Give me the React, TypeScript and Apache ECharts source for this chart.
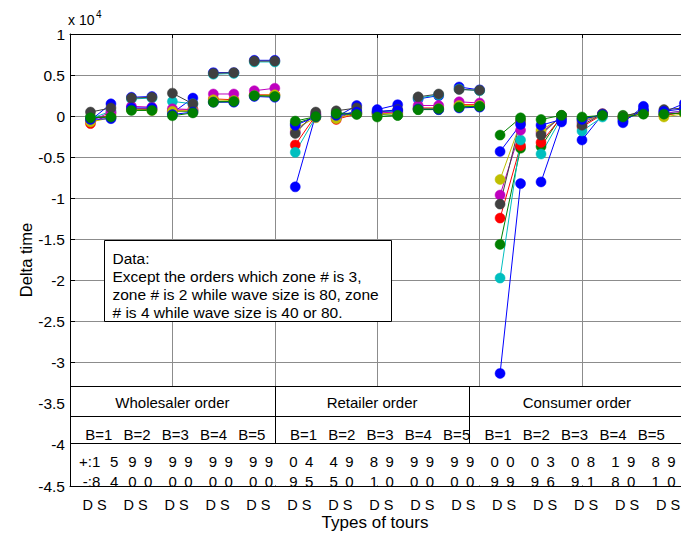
import React, { useEffect, useRef } from "react";
import * as echarts from "echarts";

const FONT = '"Liberation Sans", Arial, Helvetica, sans-serif';

// Values are in units of 10^4 (axis shows "x 10^4").
// Order of 30 points: Wholesaler B=1..5, Retailer B=1..5, Consumer B=1..5; each B has D then S.
const blue1 = [-0.05, 0.15, 0.23, 0.24, 0.04, 0.22, 0.53, 0.53, 0.68, 0.68, -0.86, 0.02, -0.01, 0.13, 0.08, 0.14, 0.21, 0.25, 0.355, 0.32, -3.13, -0.82, -0.8, -0.07, -0.29, 0.02, -0.08, 0.12, 0.05, 0.155];
const green1 = [-0.01, -0.01, 0.08, 0.08, 0.06, 0.06, 0.18, 0.18, 0.25, 0.25, -0.09, -0.01, 0.04, 0.03, 0.02, 0.01, 0.08, 0.08, 0.12, 0.12, -1.56, -0.39, -0.37, 0.005, -0.03, 0.01, 0.01, 0.03, 0.02, 0.04];
const red1 = [-0.09, 0.03, 0.09, 0.09, 0.07, 0.08, 0.21, 0.2, 0.26, 0.26, -0.35, 0.01, -0.04, 0.03, 0.03, 0.04, 0.1, 0.1, 0.14, 0.14, -1.24, -0.36, -0.32, -0.01, -0.13, 0.02, -0.03, 0.04, 0.01, 0.05];
const cyan1 = [-0.03, 0.06, 0.21, 0.22, 0.18, 0.15, 0.51, 0.52, 0.66, 0.66, -0.44, -0.01, -0.02, 0.07, 0.05, 0.06, 0.22, 0.26, 0.33, 0.31, -1.97, -0.29, -0.46, -0.02, -0.18, -0.01, -0.05, 0.06, 0.03, 0.07];
const magenta1 = [-0.06, 0.05, 0.12, 0.11, 0.09, 0.08, 0.27, 0.27, 0.31, 0.34, -0.19, 0.03, -0.02, 0.05, 0.04, 0.05, 0.13, 0.13, 0.175, 0.16, -0.96, -0.17, -0.2, -0.01, -0.08, 0.03, -0.02, 0.05, 0.04, 0.06];
const yellow1 = [-0.07, -0.02, 0.08, 0.07, 0.06, 0.07, 0.2, 0.19, 0.25, 0.26, -0.15, -0.02, -0.03, 0.04, 0.03, 0.03, 0.09, 0.09, 0.13, 0.13, -0.77, -0.08, -0.17, -0.02, -0.06, 0.02, -0.01, 0.04, -0.01, 0.03];
const gray1 = [0.05, 0.1, 0.22, 0.23, 0.28, 0.15, 0.52, 0.53, 0.67, 0.67, -0.21, 0.05, 0.065, 0.1, 0.05, 0.08, 0.235, 0.27, 0.325, 0.315, -1.07, -0.05, -0.23, 0.01, -0.11, 0.03, -0.005, 0.065, 0.08, 0.1];
const blue2 = [-0.04, -0.03, 0.1, 0.1, 0.02, 0.05, 0.17, 0.17, 0.24, 0.23, -0.11, -0.01, 0.01, 0.05, 0.06, 0.07, 0.09, 0.08, 0.1, 0.11, -0.43, -0.1, -0.11, -0.04, -0.04, 0.02, -0.06, 0.08, 0.06, 0.09];
const green2 = [-0.02, -0.01, 0.07, 0.07, 0.005, 0.04, 0.17, 0.18, 0.25, 0.24, -0.06, -0.005, 0.03, 0.02, -0.01, 0.01, 0.08, 0.09, 0.11, 0.12, -0.23, -0.02, -0.04, 0.01, -0.01, 0.01, -0.01, 0.025, 0.025, 0.04];

const seriesValues = [blue1, green1, red1, cyan1, magenta1, yellow1, gray1, blue2, green2];
const seriesColors = ["#0000ff", "#008000", "#ff0000", "#00bfbf", "#bf00bf", "#bfbf00", "#404040", "#0000ff", "#008000"];

const orderTypes = ["Wholesaler order", "Retailer order", "Consumer order"];
const batchLabels = ["B=1", "B=2", "B=3", "B=4", "B=5"];
const tourLabel = "D S";
const plusCounts = ["1", "5", "9", "9", "9", "9", "9", "9", "9", "9", "0", "4", "4", "9", "8", "9", "9", "9", "9", "9", "0", "0", "0", "3", "0", "8", "1", "9", "8", "9"];
const minusCounts = ["8", "4", "0", "0", "0", "0", "0", "0", "0", "0", "9", "5", "5", "0", "1", "0", "0", "0", "0", "0", "9", "9", "9", "6", "9", "1", "8", "0", "1", "0"];
const noteLines = [
  "Data:",
  "Except the orders which zone # is 3,",
  "zone # is 2 while wave size is 80, zone",
  "# is 4 while wave size is 40 or 80.",
];

const X_MIN = 0;
const X_MAX = 30;
const Y_MIN = -4.5;
const Y_MAX = 1;
const SECTION_EDGES = [0, 10, 19.5, 30];
const TABLE_TOP = -3.28;
const ROW1_BOTTOM = -3.65;
const ROW2_BOTTOM = -3.98;
const TITLE_Y = -3.485;
const BATCH_Y = -3.87;
const PLUS_Y = -4.2;
const MINUS_Y = -4.44;

const CHART_W = 700;
const GRID_COLOR = "#8c8c8c";

function buildOption() {
  const series = seriesValues.map((vals, s) => {
    const data: any[] = [];
    vals.forEach((v, i) => {
      data.push([i + 1, v]);
      if (i % 2 === 1 && i < vals.length - 1) data.push([i + 1.5, "-"]);
    });
    const c = seriesColors[s];
    return {
      type: "line",
      name: "series" + (s + 1),
      data,
      symbol: "circle",
      symbolSize: 10,
      clip: false,
      connectNulls: false,
      lineStyle: { color: c, width: 1 },
      itemStyle: { color: c, borderColor: c, borderWidth: 0.5 },
      emphasis: { disabled: true },
      z: 2,
    };
  });

  return {
    animation: false,
    backgroundColor: "#ffffff",
    grid: { left: 70, top: 34, right: CHART_W - 684.4, bottom: 47, containLabel: false },
    xAxis: [
      {
        type: "value",
        min: X_MIN,
        max: X_MAX,
        interval: 5,
        position: "bottom",
        axisLine: { show: true, onZero: false, lineStyle: { color: "#000", width: 1 } },
        axisTick: { show: false },
        axisLabel: { show: false },
        splitLine: { show: true, lineStyle: { color: GRID_COLOR, width: 1 } },
      },
      {
        type: "value",
        min: X_MIN,
        max: X_MAX,
        interval: 5,
        position: "top",
        axisLine: { show: true, onZero: false, lineStyle: { color: "#000", width: 1 } },
        axisTick: { show: true, inside: true, length: 4, customValues: [5, 15, 25], lineStyle: { color: "#000" } },
        axisLabel: { show: false },
        splitLine: { show: false },
      },
    ],
    yAxis: {
      type: "value",
      min: Y_MIN,
      max: Y_MAX,
      interval: 0.5,
      axisLine: { show: true, onZero: false, lineStyle: { color: "#000", width: 1 } },
      axisTick: { show: true, inside: true, length: 5, lineStyle: { color: "#000" } },
      axisLabel: { color: "#000", fontSize: 15.5, fontFamily: FONT, margin: 5 },
      splitLine: { show: true, lineStyle: { color: GRID_COLOR, width: 1 } },
    },
    series,
  };
}

function txt(x: number, y: number, text: string, fontSize: number, align = "center", vAlign = "middle", extra: any = {}) {
  return {
    type: "text",
    x,
    y,
    z: 5,
    silent: true,
    ...extra,
    style: {
      text,
      fill: "#000",
      fontSize,
      fontFamily: FONT,
      align,
      verticalAlign: vAlign,
    },
  };
}

function buildGraphic(P: (x: number, y: number) => number[]) {
  const snap = (v: number) => Math.round(v) + 0.5;
  const els: any[] = [];
  const [xL, yT] = P(X_MIN, TABLE_TOP);
  const yB = P(X_MIN, Y_MIN)[1];
  const yR1 = P(X_MIN, ROW1_BOTTOM)[1];
  const yR2 = P(X_MIN, ROW2_BOTTOM)[1];

  // white table background (hides grid lines under the table)
  els.push({
    type: "rect",
    z: 1,
    silent: true,
    shape: { x: xL + 1, y: Math.round(yT), width: CHART_W, height: Math.round(yB) - Math.round(yT) - 1 },
    style: { fill: "#ffffff" },
  });
  // horizontal table lines
  [yT, yR1, yR2].forEach((y) => {
    const yy = snap(y);
    els.push({ type: "line", z: 4, silent: true, shape: { x1: xL, y1: yy, x2: CHART_W, y2: yy }, style: { stroke: "#000", lineWidth: 1 } });
  });
  // vertical separators
  SECTION_EDGES.slice(1, -1).forEach((e) => {
    const xx = snap(P(e, 0)[0]);
    els.push({ type: "line", z: 4, silent: true, shape: { x1: xx, y1: snap(yT), x2: xx, y2: snap(yR2) }, style: { stroke: "#000", lineWidth: 1 } });
  });
  // section titles and batch labels
  orderTypes.forEach((name, s) => {
    const mid = (SECTION_EDGES[s] + SECTION_EDGES[s + 1]) / 2;
    const [cx, cy] = P(mid, TITLE_Y);
    els.push(txt(cx, cy, name, 15));
    batchLabels.forEach((b, k) => {
      const [bx, by] = P(SECTION_EDGES[s] + 1.4 + k * 1.87, BATCH_Y);
      els.push(txt(bx, by, b, 15));
    });
  });
  // counts of + and -
  for (let g = 0; g < 15; g++) {
    const center = 2 * g + 1.5 - 0.03 - 0.035 * g + (g === 0 ? 0.25 : 0);
    const cx = P(center, 0)[0];
    const yP = P(0, PLUS_Y)[1];
    const yM = P(0, MINUS_Y)[1];
    const dx = g === 0 ? 9 : 7.9;
    els.push(txt(cx - dx, yP, plusCounts[2 * g], 15));
    els.push(txt(cx + dx, yP, plusCounts[2 * g + 1], 15));
    els.push(txt(cx - dx, yM, minusCounts[2 * g], 15));
    els.push(txt(cx + dx, yM, minusCounts[2 * g + 1], 15));
    if (g === 0) {
      els.push(txt(cx - dx - 4.3, yP, "+:", 15, "right"));
      els.push(txt(cx - dx - 4.3, yM, "-:", 15, "right"));
    }
    // D S labels under the axis
    const lx = P(2 * g + 1.5 - 0.3, 0)[0];
    els.push(txt(lx, yB + 18.5, tourLabel, 14.5));
  }

  // axis titles
  els.push(txt(25.5, 260, "Delta time", 16.5, "center", "middle", { rotation: Math.PI / 2 }));
  els.push(txt(375, 522.5, "Types of tours", 17));
  // exponent label
  els.push(txt(68, 20, "x 10", 14, "left"));
  els.push(txt(96, 14, "4", 10, "left"));

  // note box
  els.push({
    type: "rect",
    z: 4,
    silent: true,
    shape: { x: 104.5, y: 240.5, width: 287, height: 81 },
    style: { fill: "#ffffff", stroke: "#000", lineWidth: 1 },
  });
  noteLines.forEach((line, i) => {
    els.push(txt(112.5, 258.5 + i * 17.9, line, 15.5, "left"));
  });
  return els;
}

export default function App() {
  const ref = useRef<HTMLDivElement>(null);
  useEffect(() => {
    const el = ref.current;
    if (!el) return;
    const chart = echarts.init(el, null, { renderer: "svg" });
    chart.setOption(buildOption() as any);
    const P = (x: number, y: number) => chart.convertToPixel({ gridIndex: 0 } as any, [x, y]) as unknown as number[];
    chart.setOption({ graphic: { elements: buildGraphic(P) } } as any);
    return () => chart.dispose();
  }, []);
  return (
    <div style={{ position: "fixed", left: 0, top: 0, width: 681, height: 533, overflow: "hidden", background: "#fff" }}>
      <div ref={ref} style={{ width: CHART_W, height: 533 }} />
    </div>
  );
}
